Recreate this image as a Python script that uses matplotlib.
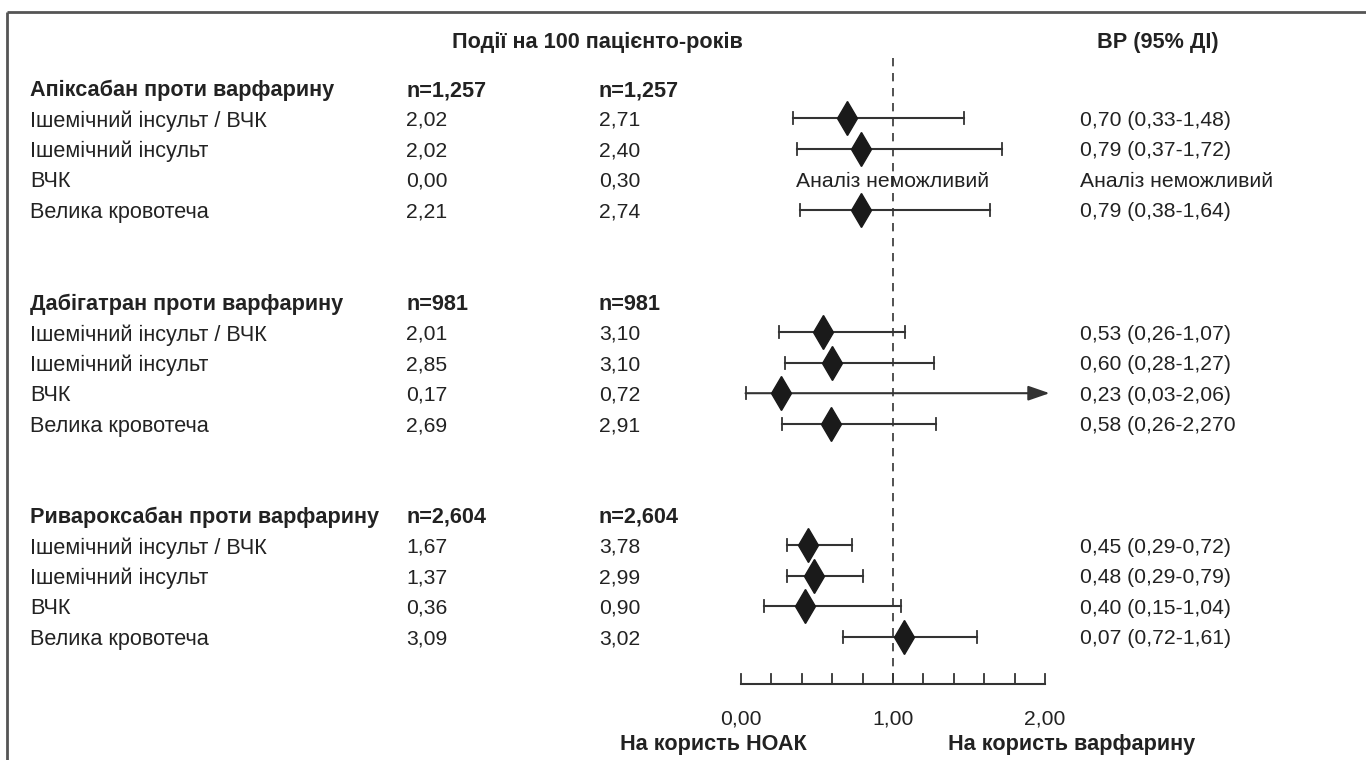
import matplotlib.pyplot as plt
import numpy as np

plt.rcParams['font.family'] = ['Liberation Sans Narrow', 'Liberation Sans', 'DejaVu Sans']

groups = ['Апіксабан проти варфарину', 'Дабігатран проти варфарину', 'Ривароксабан проти варфарину']
group_n = ['n=1,257', 'n=981', 'n=2,604']
outcomes = ['Ішемічний інсульт / ВЧК', 'Ішемічний інсульт', 'ВЧК', 'Велика кровотеча']

noac_rate = [['2,02', '2,02', '0,00', '2,21'],
             ['2,01', '2,85', '0,17', '2,69'],
             ['1,67', '1,37', '0,36', '3,09']]
warf_rate = [['2,71', '2,40', '0,30', '2,74'],
             ['3,10', '3,10', '0,72', '2,91'],
             ['3,78', '2,99', '0,90', '3,02']]

# hazard ratios as drawn (None = analysis not possible)
hr = [[0.70, 0.79, None, 0.79],
      [0.54, 0.60, 0.26, 0.59],
      [0.44, 0.48, 0.42, 1.07]]
ci_lo = [[0.34, 0.37, None, 0.39],
         [0.25, 0.29, 0.03, 0.27],
         [0.30, 0.30, 0.15, 0.67]]
ci_hi = [[1.47, 1.72, None, 1.64],
         [1.08, 1.27, 2.03, 1.28],
         [0.73, 0.80, 1.05, 1.55]]
hr_text = [['0,70 (0,33-1,48)', '0,79 (0,37-1,72)', 'Аналіз неможливий', '0,79 (0,38-1,64)'],
           ['0,53 (0,26-1,07)', '0,60 (0,28-1,27)', '0,23 (0,03-2,06)', '0,58 (0,26-2,270'],
           ['0,45 (0,29-0,72)', '0,48 (0,29-0,79)', '0,40 (0,15-1,04)', '0,07 (0,72-1,61)']]
arrow_rows = [(1, 2)]  # CI runs off the scale

ticks = np.arange(0, 2.01, 0.2)
tick_labels = {0: '0,00', 5: '1,00', 10: '2,00'}

# layout: pixel positions
W, H = 1366, 760
X0, UNIT = 741, 152.0          # pixel of HR=0 and pixels per unit
def px(p):
    return (p - X0) / UNIT

group_y = [88, 302, 515]
step = 30.4
axis_y = 684
txt = '#222222'
ln = '#333333'
fs = 15.6
fs_num = 15.2
va = 'center_baseline'

fig = plt.figure(figsize=(W / 100, H / 100), dpi=100)
ax = fig.add_axes([0, 0, 1, 1])
ax.set_xlim(px(0), px(W))
ax.set_ylim(H, 0)
ax.axis('off')

# frame (top and left only)
ax.plot([px(7), px(W)], [12, 12], color='#555555', lw=2, solid_capstyle='butt')
ax.plot([px(7), px(7)], [12, H], color='#555555', lw=2, solid_capstyle='butt')

# column headers
ax.text(px(597), 40, 'Події на 100 пацієнто-років', ha='center', va=va,
        fontsize=fs, fontweight='bold', color=txt)
ax.text(px(1158), 40, 'ВР (95% ДІ)', ha='center', va=va,
        fontsize=fs, fontweight='bold', color=txt)

# reference line
ax.plot([1, 1], [58, axis_y], color=ln, lw=1.2, ls=(0, (5, 4)))

for g in range(len(groups)):
    y0 = group_y[g]
    ax.text(px(30), y0, groups[g], ha='left', va=va, fontsize=fs, fontweight='bold', color=txt)
    ax.text(px(406), y0, group_n[g], ha='left', va=va, fontsize=fs, fontweight='bold', color=txt)
    ax.text(px(599), y0, group_n[g], ha='left', va=va, fontsize=fs, fontweight='bold', color=txt)
    for i in range(len(outcomes)):
        y = y0 + step * (i + 1)
        ax.text(px(30), y, outcomes[i], ha='left', va=va, fontsize=fs, color=txt)
        ax.text(px(406), y, noac_rate[g][i], ha='left', va=va, fontsize=fs_num, color=txt)
        ax.text(px(599), y, warf_rate[g][i], ha='left', va=va, fontsize=fs_num, color=txt)
        ax.text(px(1080), y, hr_text[g][i], ha='left', va=va, fontsize=fs_num, color=txt)
        if hr[g][i] is None:
            ax.text(px(893), y, 'Аналіз неможливий', ha='center', va=va, fontsize=fs_num, color=txt)
            continue
        lo, hi = ci_lo[g][i], ci_hi[g][i]
        if (g, i) in arrow_rows:
            ax.annotate('', xy=(hi, y), xytext=(lo, y),
                        arrowprops=dict(arrowstyle='-|>,head_length=1.3,head_width=0.45',
                                        color=ln, lw=1.5, shrinkA=0, shrinkB=0))
            ax.plot([lo, lo], [y - 6, y + 6], color=ln, lw=1.3)
        else:
            ax.plot([lo, hi], [y, y], color=ln, lw=1.5)
            ax.plot([lo, lo], [y - 6, y + 6], color=ln, lw=1.3)
            ax.plot([hi, hi], [y - 6, y + 6], color=ln, lw=1.3)
        ax.plot(hr[g][i], y, marker='d', markersize=17, color='#1a1a1a', zorder=5)

# HR scale
ax.plot([ticks[0], ticks[-1]], [axis_y, axis_y], color=ln, lw=1.5)
for k, t in enumerate(ticks):
    ax.plot([t, t], [axis_y - 10, axis_y], color=ln, lw=1.3)
    if k in tick_labels:
        ax.text(t, 717, tick_labels[k], ha='center', va=va, fontsize=fs_num, color=txt)

ax.text(px(807), 742, 'На користь НОАК', ha='right', va=va, fontsize=fs, fontweight='bold', color=txt)
ax.text(px(948), 742, 'На користь варфарину', ha='left', va=va, fontsize=fs, fontweight='bold', color=txt)

fig.savefig('out.png', dpi=100)
